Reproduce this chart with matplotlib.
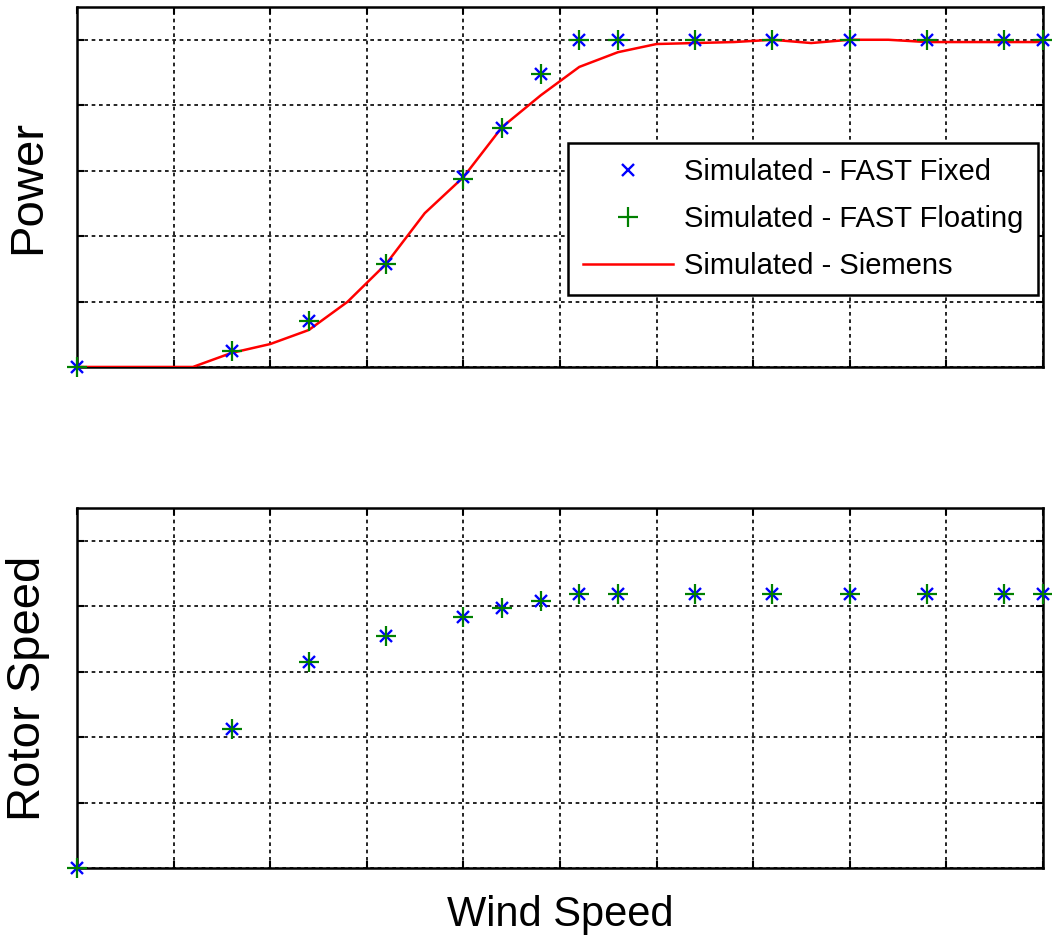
import numpy as np
import matplotlib
matplotlib.use("Agg")
import matplotlib.pyplot as plt

plt.rcParams['font.family'] = ['Liberation Sans', 'DejaVu Sans']

# measured wind speeds (normalised axis 0..10)
wind = [0, 1.6, 2.4, 3.2, 4.0, 4.4, 4.8, 5.2, 5.6, 6.4, 7.2, 8.0, 8.8, 9.6, 10.0]

# normalised power from FAST (fixed and floating overlap)
power_fixed = [0, 0.049, 0.14, 0.315, 0.58, 0.73, 0.895, 1.0, 1.0, 1.0, 1.0, 1.0, 1.0, 1.0, 1.0]
power_float = [0, 0.049, 0.14, 0.315, 0.575, 0.73, 0.895, 1.0, 1.0, 1.0, 1.0, 1.0, 1.0, 1.0, 1.0]

# Siemens power curve
wind_siemens = [0, 0.4, 0.8, 1.2, 1.6, 2.0, 2.4, 2.8, 3.2, 3.6, 4.0, 4.4, 4.8, 5.2, 5.6,
                6.0, 6.4, 6.8, 7.2, 7.6, 8.0, 8.4, 8.8, 9.2, 9.6, 10.0]
power_siemens = [0, 0, 0, 0, 0.043, 0.070, 0.113, 0.199, 0.315, 0.47, 0.58, 0.733, 0.83,
                 0.917, 0.962, 0.987, 0.99, 0.993, 1.0, 0.99, 1.0, 1.0, 0.993, 0.993, 0.993, 0.993]

# normalised rotor speed
rotor_fixed = [0, 0.425, 0.63, 0.71, 0.767, 0.795, 0.816, 0.837, 0.837, 0.837, 0.837, 0.837, 0.837, 0.837, 0.837]
rotor_float = [0, 0.425, 0.63, 0.71, 0.767, 0.795, 0.816, 0.837, 0.837, 0.837, 0.837, 0.837, 0.837, 0.837, 0.837]

fig = plt.figure(figsize=(10.52, 9.39), dpi=100)
ax1 = fig.add_axes([0.0732, 0.6092, 0.9182, 0.3833])
ax2 = fig.add_axes([0.0732, 0.0756, 0.9182, 0.3834])


def style(ax):
    ax.set_xlim(0, 10)
    ax.set_ylim(0, 1.1)
    ax.set_xticks(np.arange(0, 11, 1))
    ax.set_yticks(np.arange(0, 1.01, 0.2))
    ax.set_xticklabels([])
    ax.set_yticklabels([])
    ax.tick_params(direction='in', length=5, width=1.5, top=True, right=True)
    ax.grid(True, color='black', linestyle=(0, (2.2, 2.2)), linewidth=1.2)
    for s in ax.spines.values():
        s.set_linewidth(1.8)


style(ax1)
ax1.plot(wind_siemens, power_siemens, color='red', lw=1.8, label='Simulated - Siemens', zorder=3)
ax1.plot(wind, power_fixed, 'x', color='blue', ms=8, mew=1.7,
         label='Simulated - FAST Fixed', clip_on=False, zorder=4)
ax1.plot(wind, power_float, '+', color='green', ms=14, mew=1.6,
         label='Simulated - FAST Floating', clip_on=False, zorder=4)
ax1.set_ylabel('Power', fontsize=34, labelpad=16)

h, l = ax1.get_legend_handles_labels()
leg = ax1.legend([h[1], h[2], h[0]], [l[1], l[2], l[0]], loc='upper right',
                 bbox_to_anchor=(0.995, 0.622), borderaxespad=0, fontsize=21,
                 fancybox=False, framealpha=1, edgecolor='black',
                 handlelength=3.1, handletextpad=0.35, labelspacing=0.65, borderpad=0.52)
leg.get_frame().set_linewidth(1.8)
leg.set_zorder(5)

style(ax2)
ax2.plot(wind, rotor_fixed, 'x', color='blue', ms=8, mew=1.7, clip_on=False, zorder=4)
ax2.plot(wind, rotor_float, '+', color='green', ms=14, mew=1.6, clip_on=False, zorder=4)
ax2.set_ylabel('Rotor Speed', fontsize=34, labelpad=16)
ax2.set_xlabel('Wind Speed', fontsize=30, labelpad=16)

fig.savefig('out.png', dpi=100)
